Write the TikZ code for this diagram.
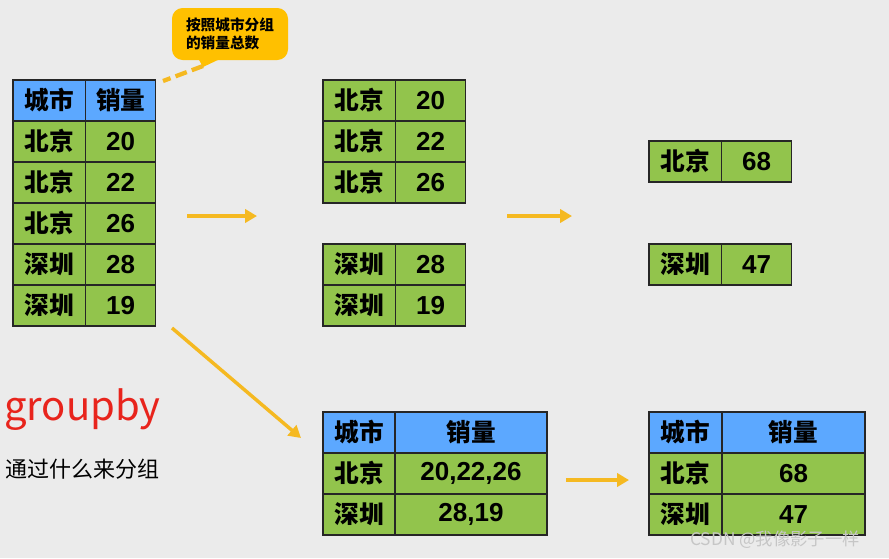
\documentclass[tikz,border=0pt]{standalone}
\usepackage{fontspec}
\newfontfamily\cjk{Noto Sans CJK SC}
\newfontfamily\numf{Liberation Sans}
\usetikzlibrary{arrows.meta}
\definecolor{bgc}{HTML}{EBEBEB}
\definecolor{hdblue}{HTML}{5CA8FF}
\definecolor{cellgreen}{HTML}{92C44C}
\definecolor{flowc}{HTML}{F5B921}
\definecolor{notec}{HTML}{FFC000}
\definecolor{redc}{HTML}{E8241C}

\begin{document}
\begin{tikzpicture}[
  x=0.75pt, y=-0.75pt,
  cellbase/.style={draw=black!85, line width=0.9pt, minimum height=30.75pt,
    inner sep=0pt, outer sep=0pt, anchor=north west,
    font=\cjk\bfseries\fontsize{18.5}{18.5}\selectfont},
  hd/.style={cellbase, fill=hdblue},
  cl/.style={cellbase, fill=cellgreen},
  num/.style={cl, font=\numf\bfseries\fontsize{19.5}{19.5}\selectfont},
  cw/.style={minimum width=54.5pt},
  vw/.style={minimum width=52.5pt},
  flow/.style={-{Triangle[length=9pt, width=10pt]}, line width=2.6pt, flowc},
  lbl/.style={font=\cjk, anchor=west, inner sep=0pt}
]
  % background
  \fill[bgc] (0,0) rectangle (889,558);
  \useasboundingbox (0,0) rectangle (889,558);

  % source table
  \node[hd,cw] (a0) at (13,80) {城市};
  \node[hd,vw] (b0) at (a0.north east) {销量};
  \node[cl,cw] (a1) at (a0.south west) {北京};
  \node[num,vw] (b1) at (a1.north east) {20};
  \node[cl,cw] (a2) at (a1.south west) {北京};
  \node[num,vw] (b2) at (a2.north east) {22};
  \node[cl,cw] (a3) at (a2.south west) {北京};
  \node[num,vw] (b3) at (a3.north east) {26};
  \node[cl,cw] (a4) at (a3.south west) {深圳};
  \node[num,vw] (b4) at (a4.north east) {28};
  \node[cl,cw] (a5) at (a4.south west) {深圳};
  \node[num,vw] (b5) at (a5.north east) {19};

  % split groups
  \node[cl,cw] (g1) at (323,80) {北京};
  \node[num,vw] (v1) at (g1.north east) {20};
  \node[cl,cw] (g2) at (g1.south west) {北京};
  \node[num,vw] (v2) at (g2.north east) {22};
  \node[cl,cw] (g3) at (g2.south west) {北京};
  \node[num,vw] (v3) at (g3.north east) {26};
  \node[cl,cw] (g4) at (323,244) {深圳};
  \node[num,vw] (v4) at (g4.north east) {28};
  \node[cl,cw] (g5) at (g4.south west) {深圳};
  \node[num,vw] (v5) at (g5.north east) {19};

  % sums
  \node[cl,cw] (s1) at (649,141) {北京};
  \node[num,vw] (t1) at (s1.north east) {68};
  \node[cl,cw] (s2) at (649,244) {深圳};
  \node[num,vw] (t2) at (s2.north east) {47};

  % collected lists
  \node[hd,minimum width=54pt] (c0) at (323,412) {城市};
  \node[hd,minimum width=114pt] (d0) at (c0.north east) {销量};
  \node[cl,minimum width=54pt] (c1) at (c0.south west) {北京};
  \node[num,minimum width=114pt] (d1) at (c1.north east) {20,22,26};
  \node[cl,minimum width=54pt] (c2) at (c1.south west) {深圳};
  \node[num,minimum width=114pt] (d2) at (c2.north east) {28,19};

  % result table
  \node[hd,minimum width=54.75pt] (e0) at (649,412) {城市};
  \node[hd,minimum width=107.25pt] (f0) at (e0.north east) {销量};
  \node[cl,minimum width=54.75pt] (e1) at (e0.south west) {北京};
  \node[num,minimum width=107.25pt] (f1) at (e1.north east) {68};
  \node[cl,minimum width=54.75pt] (e2) at (e1.south west) {深圳};
  \node[num,minimum width=107.25pt] (f2) at (e2.north east) {47};

  % arrows
  \coordinate (p1) at (187,216);  \coordinate (q1) at (257,216);
  \coordinate (p2) at (507,216);  \coordinate (q2) at (572,216);
  \coordinate (p3) at (172,328);  \coordinate (q3) at (301,438);
  \coordinate (p4) at (566,480);  \coordinate (q4) at (629,480);
  \draw[flow] (p1) -- (q1);
  \draw[flow] (p2) -- (q2);
  \draw[flow] (p3) -- (q3);
  \draw[flow] (p4) -- (q4);

  % callout
  \node[fill=notec, rounded corners=8pt, minimum width=87pt, minimum height=39pt,
        inner sep=0pt, align=left, font=\cjk\bfseries\fontsize{11}{13.5}\selectfont]
    (note) at (230,34) {按照城市分组\\的销量总数};
  \fill[notec] (198,58) -- (203,67) -- (222,58) -- cycle;
  \coordinate (tip) at (203,66);
  \coordinate (tail) at (163,81);
  \draw[flowc, line width=3.2pt, dash pattern=on 9pt off 4pt] (tip) -- (tail);

  % captions
  \node[lbl, text=redc, font=\cjk\fontsize{30}{30}\selectfont] (gb) at (4,410) {groupby};
  \node[lbl, font=\cjk\fontsize{16.5}{16.5}\selectfont] (sub) at (5,469) {通过什么来分组};

  % watermark
  \node[font=\cjk\fontsize{13}{13}\selectfont, text=white!55!gray, inner sep=0pt]
    (wm) at (775,540) {CSDN @我像影子一样};
\end{tikzpicture}
\end{document}
